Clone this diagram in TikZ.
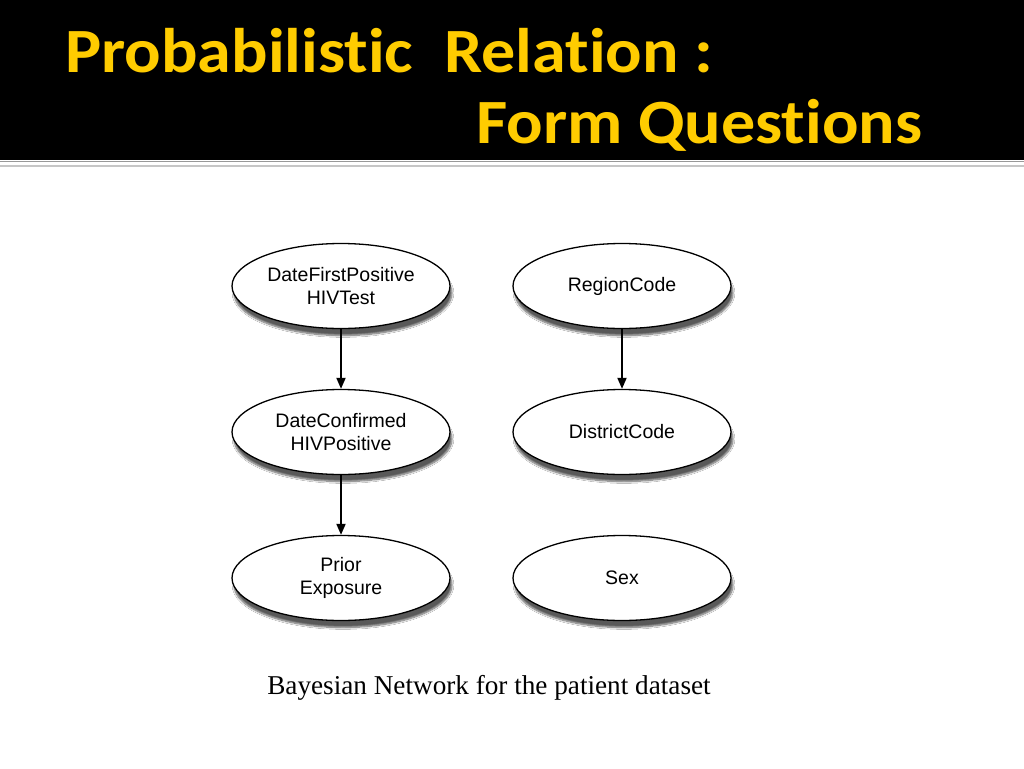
\documentclass[tikz,border=0pt]{standalone}
\usepackage{fontspec}
\setmainfont{Liberation Serif}
\newfontfamily\titlefont[FakeStretch=1.08,Ligatures=NoCommon]{Carlito}
\newfontfamily\nodefont{Liberation Sans}
\usetikzlibrary{shapes.geometric,shadows.blur,arrows.meta}
\definecolor{titleyellow}{HTML}{FFCC00}

\begin{document}
\begin{tikzpicture}[x=1pt,y=-1pt,
  bnode/.style={draw, ellipse, line width=1.3pt, fill=white, minimum width=218pt, minimum height=85pt,
    align=center, font=\nodefont\fontsize{19.5}{23}\selectfont,
    blur shadow={shadow xshift=2pt, shadow yshift=-7pt, shadow opacity=65, shadow blur steps=8}},
  bedge/.style={draw, line width=1.8pt, -{Triangle[length=11pt,width=9pt]}}]
\useasboundingbox (0,0) rectangle (1024,768);
\fill[white] (0,0) rectangle (1024,768);
% title band
\fill[black] (0,0) rectangle (1024,160);
\draw[gray!80, line width=1pt] (0,161.5) -- (1024,161.5);
\draw[gray!45, line width=2pt] (0,166) -- (1024,166);
\node[anchor=base west, inner sep=0pt, text=titleyellow, font=\titlefont\bfseries\fontsize{63}{63}\selectfont] (title1) at (65,72) {Probabilistic\ \ Relation :};
\node[anchor=base west, inner sep=0pt, text=titleyellow, font=\titlefont\bfseries\fontsize{63}{63}\selectfont] (title2) at (476,143) {Form Questions};

% network
\node[bnode] (1) at (341,286) {DateFirstPositive\\HIVTest};
\node[bnode] (2) at (341,432) {DateConfirmed\\HIVPositive};
\node[bnode] (3) at (341,578) {Prior\\Exposure};
\node[bnode] (4) at (622,286) {RegionCode};
\node[bnode] (5) at (622,432) {DistrictCode};
\node[bnode] (6) at (622,578) {Sex};

\path[bedge] (1) -- (2);
\path[bedge] (2) -- (3);
\path[bedge] (4) -- (5);

\node[font=\fontsize{27.2}{27.2}\selectfont] (caption) at (489,688) {Bayesian Network for the patient dataset};
\end{tikzpicture}
\end{document}
